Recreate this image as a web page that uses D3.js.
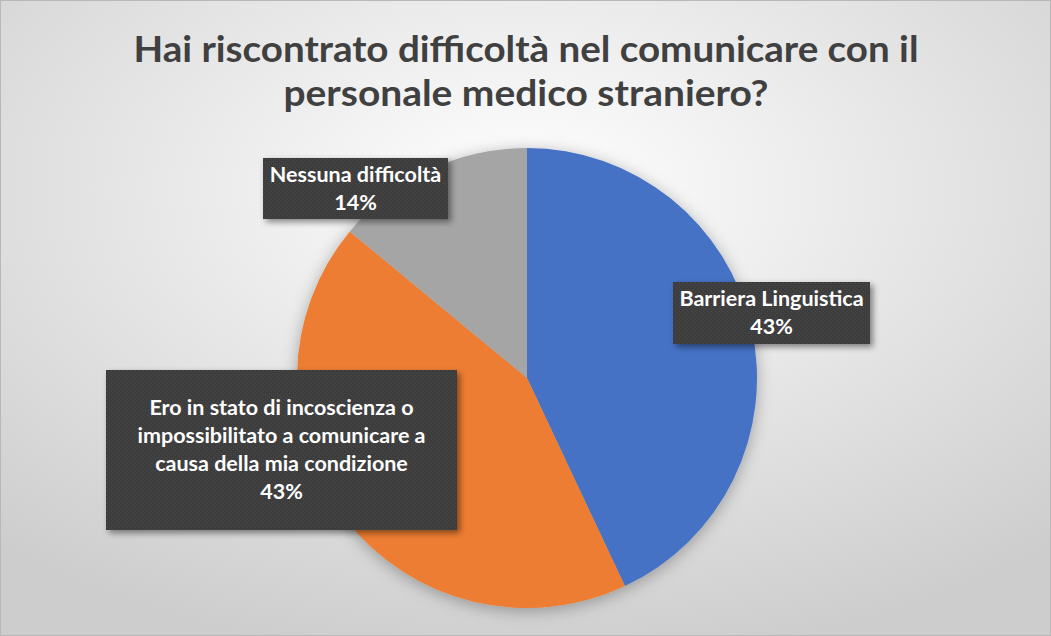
<!DOCTYPE html>
<html>
<head>
<meta charset="utf-8">
<script src="https://cdn.jsdelivr.net/npm/d3@7"></script>
<style>
  html, body { margin: 0; padding: 0; background: #fff; }
  svg { display: block; }
</style>
</head>
<body>
<div id="chart"></div>
<script>
var categories = ['Barriera Linguistica',
  'Ero in stato di incoscienza o impossibilitato a comunicare a causa della mia condizione',
  'Nessuna difficoltà'];
var values = [43, 43, 14];
var labelLines = [
  ['Barriera Linguistica', '43%'],
  ['Ero in stato di incoscienza o', 'impossibilitato a comunicare a', 'causa della mia condizione', '43%'],
  ['Nessuna difficoltà', '14%']
];
var titleLines = ['Hai riscontrato difficoltà nel comunicare con il', 'personale medico straniero?'];

var width = 1051, height = 636;
var colors = ['#4472C4', '#ED7D31', '#A5A5A5'];
var cx = 527, cy = 378, radius = 230;
var font = 'Lato, "Open Sans", sans-serif';

// label boxes: [left, top, width, height]
var boxes = [
  [673, 282, 197, 62],
  [106, 370, 351, 160],
  [263, 158, 185, 61]
];
// title line widths as measured on the original
var titleWidths = [785, 485];

var svg = d3.select('#chart')
  .append('svg')
  .attr('width', width)
  .attr('height', height);

var defs = svg.append('defs');

var bg = defs.append('radialGradient')
  .attr('id', 'bg')
  .attr('cx', '50%').attr('cy', '30%').attr('r', '75%');
bg.append('stop').attr('offset', '0%').attr('stop-color', '#ffffff');
bg.append('stop').attr('offset', '100%').attr('stop-color', '#cdcdcd');

var pieShadow = defs.append('filter')
  .attr('id', 'pieShadow')
  .attr('x', '-20%').attr('y', '-20%').attr('width', '140%').attr('height', '140%');
pieShadow.append('feDropShadow')
  .attr('dx', 0).attr('dy', 3).attr('stdDeviation', 8)
  .attr('flood-color', '#000').attr('flood-opacity', 0.3);

var boxShadow = defs.append('filter')
  .attr('id', 'boxShadow')
  .attr('x', '-20%').attr('y', '-20%').attr('width', '140%').attr('height', '140%');
boxShadow.append('feDropShadow')
  .attr('dx', 3).attr('dy', 3).attr('stdDeviation', 3)
  .attr('flood-color', '#000').attr('flood-opacity', 0.45);

var dots = defs.append('pattern')
  .attr('id', 'dots')
  .attr('width', 4).attr('height', 4)
  .attr('patternUnits', 'userSpaceOnUse');
dots.append('rect').attr('width', 4).attr('height', 4).attr('fill', '#3d3d3d');
dots.append('rect').attr('x', 1).attr('y', 1).attr('width', 1).attr('height', 1).attr('fill', '#4c4c4c');
dots.append('rect').attr('x', 3).attr('y', 3).attr('width', 1).attr('height', 1).attr('fill', '#4c4c4c');

svg.append('rect')
  .attr('width', width)
  .attr('height', height)
  .attr('fill', 'url(#bg)');

// thin frame
svg.append('rect')
  .attr('x', 0.5).attr('y', 0.5)
  .attr('width', width - 1).attr('height', height - 1)
  .attr('fill', 'none')
  .attr('stroke', '#b8b8b8');

// title
svg.append('g')
  .selectAll('text')
  .data(titleLines)
  .enter()
  .append('text')
  .attr('x', 526)
  .attr('y', function(d, i) { return 62 + i * 44; })
  .attr('text-anchor', 'middle')
  .attr('font-family', font)
  .attr('font-weight', 'bold')
  .attr('font-size', '36px')
  .attr('textLength', function(d, i) { return titleWidths[i]; })
  .attr('lengthAdjust', 'spacingAndGlyphs')
  .attr('fill', '#404040')
  .text(function(d) { return d; });

// pie
var pie = d3.pie().sort(null).value(function(d) { return d; });
var arc = d3.arc().innerRadius(0).outerRadius(radius);

var pieG = svg.append('g')
  .attr('transform', 'translate(' + cx + ',' + cy + ')')
  .attr('filter', 'url(#pieShadow)');

pieG.selectAll('path')
  .data(pie(values))
  .enter()
  .append('path')
  .attr('d', arc)
  .attr('fill', function(d, i) { return colors[i]; });

// labels
var labels = svg.append('g');
labelLines.forEach(function(lines, i) {
  var b = boxes[i];
  var g = labels.append('g');
  g.append('rect')
    .attr('x', b[0]).attr('y', b[1])
    .attr('width', b[2]).attr('height', b[3])
    .attr('fill', 'url(#dots)')
    .attr('filter', 'url(#boxShadow)');
  var lh = 28;
  var startY = b[1] + b[3] / 2 - (lines.length - 1) * lh / 2 + 7;
  g.selectAll('text')
    .data(lines)
    .enter()
    .append('text')
    .attr('x', b[0] + b[2] / 2)
    .attr('y', function(d, j) { return startY + j * lh; })
    .attr('text-anchor', 'middle')
    .attr('font-family', font)
    .attr('font-weight', 'bold')
    .attr('font-size', '21.5px')
    .attr('fill', '#ffffff')
    .text(function(d) { return d; });
});
</script>
</body>
</html>
